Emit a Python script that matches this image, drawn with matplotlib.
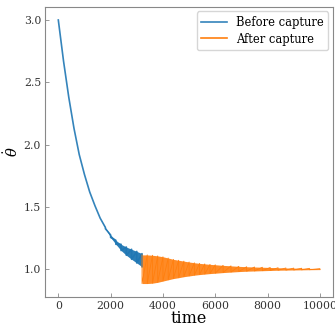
import matplotlib
matplotlib.use("Agg")
import matplotlib.pyplot as plt
import numpy as np

plt.rcParams["font.family"] = "DejaVu Serif"
plt.rcParams["mathtext.fontset"] = "dejavuserif"

# envelope of theta-dot (upper / lower of the oscillation)
before_time = [0, 200, 400, 600, 800, 1000, 1200, 1400, 1600, 1800, 2000,
               2200, 2400, 2600, 2800, 3000, 3200]
before_upper = [3.00, 2.67, 2.38, 2.13, 1.92, 1.76, 1.62, 1.51, 1.41, 1.335, 1.275,
                1.232, 1.200, 1.178, 1.160, 1.143, 1.125]
before_lower = [3.00, 2.67, 2.38, 2.13, 1.92, 1.76, 1.62, 1.51, 1.41, 1.325, 1.255,
                1.200, 1.150, 1.112, 1.080, 1.050, 1.020]

after_time = [3200, 3400, 3600, 3800, 4000, 4200, 4400, 4600, 4800, 5000, 5200,
              5400, 5600, 5800, 6000, 6300, 6600, 6900, 7200, 7500, 7800, 8100,
              8400, 8700, 9000, 9300, 9600, 10000]
after_upper = [1.115, 1.115, 1.112, 1.107, 1.100, 1.090, 1.079, 1.072, 1.065, 1.058, 1.052,
               1.047, 1.043, 1.039, 1.036, 1.031, 1.027, 1.023, 1.020, 1.018, 1.016, 1.014,
               1.012, 1.010, 1.009, 1.008, 1.007, 1.005]
after_lower = [0.885, 0.885, 0.888, 0.895, 0.905, 0.915, 0.925, 0.932, 0.940, 0.946, 0.952,
               0.957, 0.961, 0.965, 0.968, 0.973, 0.977, 0.981, 0.984, 0.986, 0.988, 0.990,
               0.992, 0.993, 0.994, 0.995, 0.996, 0.997]


def zigzag(t, hi, lo):
    # visit upper then lower value at each sample -> oscillating trace
    xs = np.repeat(np.asarray(t, float), 2)
    ys = np.column_stack([hi, lo]).ravel()
    return xs, ys


fig = plt.figure(figsize=(3.35, 3.25), dpi=100)
ax = fig.add_axes([0.135, 0.087, 0.859, 0.892])

blue = "#1f77b4"
orange = "#ff7f0e"

x, y = zigzag(before_time, before_upper, before_lower)
ax.fill_between(before_time, before_lower, before_upper, color=blue, lw=0, alpha=0.95)
ax.plot(x, y, color=blue, lw=1.2, alpha=0.9, label="Before capture")

x, y = zigzag(after_time, after_upper, after_lower)
ax.fill_between(after_time, after_lower, after_upper, color=orange, lw=0, alpha=0.9)
ax.plot(x, y, color=orange, lw=0.6, label="After capture")

ax.set_xticks([0, 2000, 4000, 6000, 8000, 10000])
ax.set_yticks([1.0, 1.5, 2.0, 2.5, 3.0])
ax.set_xlabel("time", fontsize=11.5, labelpad=-1)
ax.set_ylabel(r"$\dot{\theta}$", fontsize=10.5, labelpad=2)

for s in ax.spines.values():
    s.set_color("#888888")
    s.set_linewidth(0.8)
ax.tick_params(direction="in", length=3, width=0.6, color="#888888",
               labelsize=7.8, labelcolor="#333333", pad=3)

leg = ax.legend(loc="upper right", fontsize=8.3, frameon=True, edgecolor="#cccccc",
                handlelength=2.2, borderpad=0.4, labelspacing=0.3,
                borderaxespad=0.4)
for h in leg.get_lines():
    h.set_linewidth(1.2)

fig.savefig("out.png", dpi=100)
